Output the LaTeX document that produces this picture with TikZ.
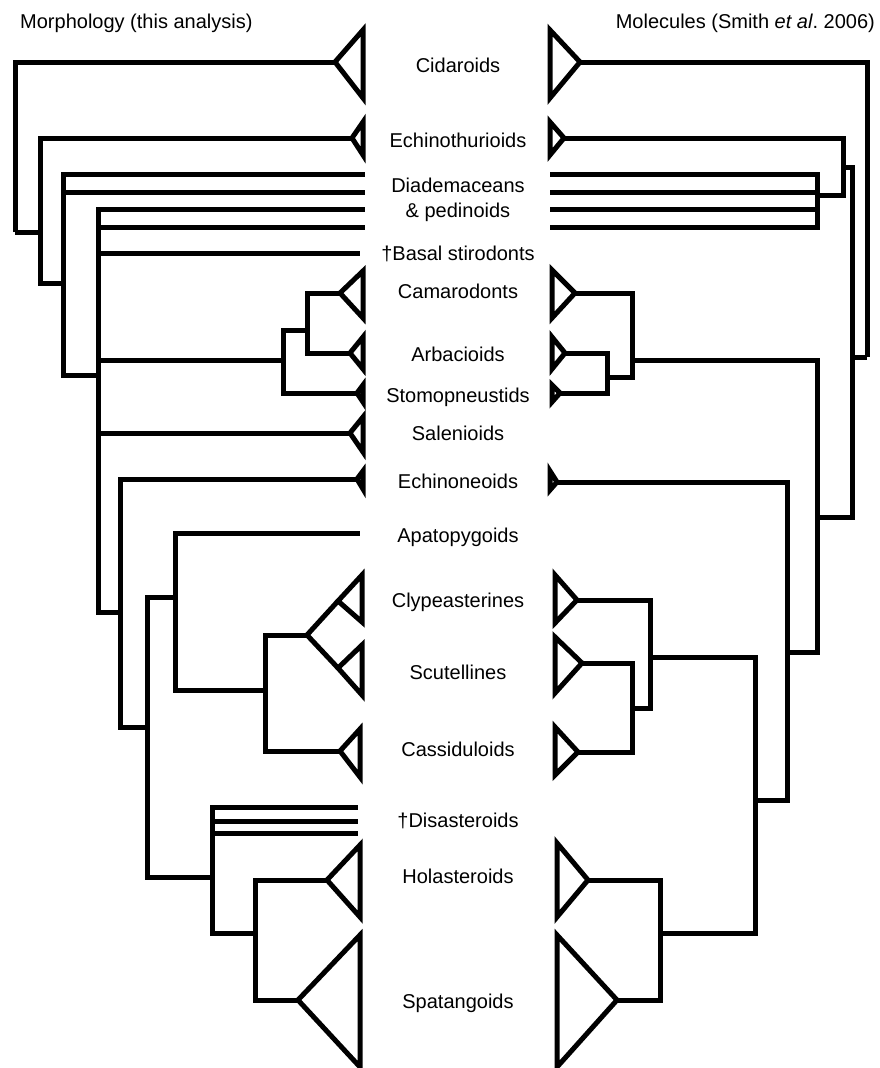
\documentclass[tikz,border=0pt]{standalone}
\usepackage{fontspec}
\setmainfont{Liberation Sans}
\usetikzlibrary{positioning}

\tikzset{branch/.style={line width=5pt,line join=miter},
         taxon/.style={font=\fontsize{20}{25}\selectfont,anchor=base,inner sep=0pt}}

\begin{document}
\begin{tikzpicture}[x=1pt,y=-1pt]
\useasboundingbox (0,0) rectangle (879,1068);
% titles
\node[taxon,anchor=base west] (morph) at (20,28) {Morphology (this analysis)};
\node[taxon,anchor=base east] (molec) at (875,28) {Molecules (Smith \textit{et al}.\ 2006)};
% taxon names
\foreach \nm/\yy/\txt in {cida/72/Cidaroids,echi/147/Echinothurioids,
  basa/260/†Basal stirodonts,cama/298/Camarodonts,arba/361/Arbacioids,
  stom/402/Stomopneustids,sale/440/Salenioids,echo/488/Echinoneoids,
  apat/542/Apatopygoids,clyp/607/Clypeasterines,scut/679/Scutellines,
  cass/756/Cassiduloids,disa/827/†Disasteroids,hola/883/Holasteroids,
  spat/1008/Spatangoids}
  \node[taxon] (\nm) at (458,\yy) {\txt};
\node[taxon,align=center] (diad) at (458,217) {Diademaceans\\\& pedinoids};
% clade triangles, morphology side
\foreach \nm/\ax/\ay/\bx/\ty/\by in {cidaL/335/62/363/30/98,echiL/352/138/363/122/155,
  camaL/340/293/363/271/318,arbaL/350/353/363/337/369,stomL/357/393/363/385/402,
  saleL/350/433/363/417/452,echoL/357/479/363/471/489,clypL/338/601/362/575/622,
  scutL/338/668/362/645/695,cassL/340/751/360/729/777,holaL/327/880/360/845/917,
  spatL/298/1000/360/935/1067}
{
  \draw[branch] (\bx,\ty) -- (\ax,\ay) -- (\bx,\by) -- cycle;
  \coordinate (\nm) at (\ax,\ay);
}
% clade triangles, molecular side
\foreach \nm/\ax/\ay/\bx/\ty/\by in {cidaR/580/62/550/30/98,echiR/564/138/550/122/155,
  camaR/575/293/552/270/318,arbaR/565/353/552/337/369,stomR/560/393/552/385/402,
  echoR/557/482/550/471/490,clypR/577/600/555/575/623,scutR/582/663/555/637/693,
  cassR/578/752/555/727/775,holaR/588/880/557/843/917,spatR/617/1000/557/935/1067}
{
  \draw[branch] (\bx,\ty) -- (\ax,\ay) -- (\bx,\by) -- cycle;
  \coordinate (\nm) at (\ax,\ay);
}
% single branch tips
\foreach \nm/\ax/\ay in {diad1L/365/174,diad2L/365/192,diad3L/365/209,diad4L/365/227,
  basaL/360/253,apatL/360/533,disa1L/358/807,disa2L/358/821,disa3L/358/833,
  diad1R/550/174,diad2R/550/192,diad3R/550/209,diad4R/550/227}
  \coordinate (\nm) at (\ax,\ay);
% internal nodes, morphology
\coordinate (m1) at (15,232);
\coordinate (m2) at (40,232);
\coordinate (m3) at (63,283);
\coordinate (m4) at (98,375);
\coordinate (m5) at (283,360);
\coordinate (m6) at (307,330);
\coordinate (m7) at (120,612);
\coordinate (m8) at (147,727);
\coordinate (m9) at (175,597);
\coordinate (m10) at (265,690);
\coordinate (m11) at (307,635);
\coordinate (m12) at (212,877);
\coordinate (m13) at (255,933);
% internal nodes, molecules
\coordinate (s1) at (867,357);
\coordinate (s2) at (852,357);
\coordinate (s3) at (843,167);
\coordinate (s4) at (817,195);
\coordinate (s5) at (817,517);
\coordinate (s6) at (632,360);
\coordinate (s7) at (607,377);
\coordinate (s8) at (787,652);
\coordinate (s9) at (755,800);
\coordinate (s10) at (650,657);
\coordinate (s11) at (632,708);
\coordinate (s12) at (660,933);
% morphology tree
\draw[branch] (m1) |- (cidaL) (m1) |- (m2);
\draw[branch] (m2) |- (echiL) (m2) |- (m3);
\draw[branch] (m3) |- (diad1L) (m3) |- (diad2L) (m3) |- (m4);
\draw[branch] (m4) |- (diad3L) (m4) |- (diad4L) (m4) |- (basaL)
  (m4) |- (m5) (m4) |- (saleL) (m4) |- (m7);
\draw[branch] (m5) |- (m6) (m5) |- (stomL);
\draw[branch] (m6) |- (camaL) (m6) |- (arbaL);
\draw[branch] (m7) |- (echoL) (m7) |- (m8);
\draw[branch] (m8) |- (m9) (m8) |- (m12);
\draw[branch] (m9) |- (apatL) (m9) |- (m10);
\draw[branch] (m10) |- (m11) (m10) |- (cassL);
\draw[branch] (m11) -- (clypL) (m11) -- (scutL);
\draw[branch] (m12) |- (disa1L) (m12) |- (disa2L) (m12) |- (disa3L) (m12) |- (m13);
\draw[branch] (m13) |- (holaL) (m13) |- (spatL);
% molecular tree
\draw[branch] (s1) |- (cidaR) (s1) |- (s2);
\draw[branch] (s2) |- (s3) (s2) |- (s5);
\draw[branch] (s3) |- (echiR) (s3) |- (s4);
\draw[branch] (s4) |- (diad1R) (s4) |- (diad2R) (s4) |- (diad3R) (s4) |- (diad4R);
\draw[branch] (s5) |- (s6) (s5) |- (s8);
\draw[branch] (s6) |- (camaR) (s6) |- (s7);
\draw[branch] (s7) |- (arbaR) (s7) |- (stomR);
\draw[branch] (s8) |- (echoR) (s8) |- (s9);
\draw[branch] (s9) |- (s10) (s9) |- (s12);
\draw[branch] (s10) |- (clypR) (s10) |- (s11);
\draw[branch] (s11) |- (scutR) (s11) |- (cassR);
\draw[branch] (s12) |- (holaR) (s12) |- (spatR);
\end{tikzpicture}
\end{document}
